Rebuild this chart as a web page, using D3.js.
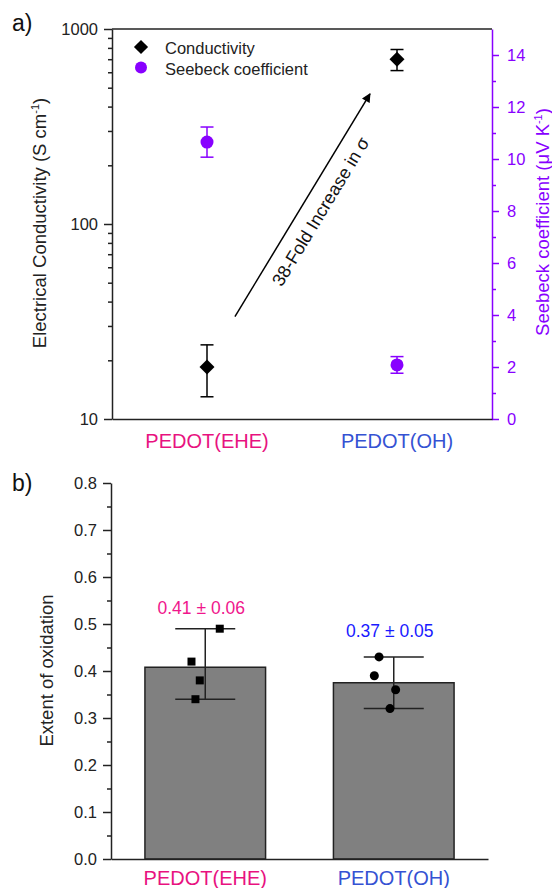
<!DOCTYPE html>
<html>
<head>
<meta charset="utf-8">
<script src="https://cdn.jsdelivr.net/npm/d3@7"></script>
<style>
  body { margin: 0; background: #fff; }
  svg { display: block; font-family: "Liberation Sans", Arial, sans-serif; }
</style>
</head>
<body>
<svg id="chart" width="552" height="888"></svg>
<script>
// == Data ====================================================================

const samples = ['PEDOT(EHE)', 'PEDOT(OH)']

// panel a
const conductivity = [18.5, 700]
const conductivityLow = [13, 612]
const conductivityHigh = [24, 785]
const seebeck = [10.65, 2.08]
const seebeckErr = [0.58, 0.32]
const condTicks = [10, 100, 1000]
const seebeckTicks = [0, 2, 4, 6, 8, 10, 12, 14]
const legendNames = ['Conductivity', 'Seebeck coefficient']
// arrow: [category position (0..2), conductivity]
const arrowFrom = [0.647, 33.5]
const arrowTo = [1.358, 465]
const arrowText = '38-Fold Increase in σ'

// panel b
const oxidation = [0.408, 0.375]
const oxidationMin = [0.34, 0.32]
const oxidationMax = [0.49, 0.43]
const oxidationText = ['0.41 ± 0.06', '0.37 ± 0.05']
const oxidationPoints = [[0.49, 0.42, 0.38, 0.34], [0.43, 0.39, 0.36, 0.32]]
const pointJitter = [[0.077, -0.073, -0.029, -0.052], [-0.078, -0.103, 0.010, -0.020]]
const oxTicks = [0, 0.1, 0.2, 0.3, 0.4, 0.5, 0.6, 0.7, 0.8]

// == Styles ==================================================================

const ink = '#222'
const purple = '#8800ff'
const catColors = ['#e8127f', '#3552d3']
const noteColors = ['#f0168c', '#1a1aff']
const tickFont = 16.5
const labelFont = 18.5

let svg = d3.select('#chart')

function styleAxis (g, color) {
  g.attr('font-family', null).attr('font-size', null)
  g.selectAll('.domain').attr('stroke', color).attr('stroke-width', 1.5)
  g.selectAll('.tick line').attr('stroke', color).attr('stroke-width', 1.5)
  g.selectAll('.tick text').attr('fill', color).attr('font-size', tickFont)
}

function minorTicks (g) {
  g.select('.domain').remove()
}

// == Panel a =================================================================

let a = { left: 112, right: 492, top: 29, bottom: 419 }
let xA = d3.scaleBand().domain(samples).range([a.left, a.right]).paddingInner(0.36).paddingOuter(0.18)
let posA = d3.scaleLinear().domain([0, 2]).range([a.left, a.right])
let yCond = d3.scaleLog().domain([10, 1000]).range([a.bottom, a.top])
let ySeeb = d3.scaleLinear().domain([0, 15]).range([a.bottom, a.top])

let condMinor = []
;[10, 100].forEach(function (d) {
  for (let k = 2; k < 10; k++) condMinor.push(d * k)
})

svg.append('g').attr('transform', `translate(${a.left},0)`)
  .call(d3.axisLeft(yCond).tickValues(condMinor).tickSize(4).tickFormat(''))
  .call(minorTicks)
  .call(styleAxis, ink)
svg.append('g').attr('transform', `translate(${a.left},0)`)
  .call(d3.axisLeft(yCond).tickValues(condTicks).tickFormat(d3.format('d')).tickSize(8).tickSizeOuter(0).tickPadding(6))
  .call(styleAxis, ink)

svg.append('g').attr('transform', `translate(${a.right},0)`)
  .call(d3.axisRight(ySeeb).tickValues([1, 3, 5, 7, 9, 11, 13]).tickSize(4).tickFormat(''))
  .call(minorTicks)
  .call(styleAxis, purple)
svg.append('g').attr('transform', `translate(${a.right},0)`)
  .call(d3.axisRight(ySeeb).tickValues(seebeckTicks).tickSize(7).tickSizeOuter(0).tickPadding(8))
  .call(styleAxis, purple)

// top frame line
svg.append('line')
  .attr('x1', a.left).attr('x2', a.right)
  .attr('y1', a.top).attr('y2', a.top)
  .attr('stroke', ink).attr('stroke-width', 1.5)

let bottomA = svg.append('g').attr('transform', `translate(0,${a.bottom})`)
  .call(d3.axisBottom(xA).tickSize(0).tickSizeOuter(0).tickPadding(14.5))
  .call(styleAxis, ink)
bottomA.selectAll('.tick text').attr('font-size', 20).attr('fill', function (d, i) { return catColors[i] })

// conductivity error bars + diamonds
let condG = svg.append('g')
samples.forEach(function (s, i) {
  let cx = xA(s) + xA.bandwidth() / 2
  condG.append('line')
    .attr('x1', cx).attr('x2', cx)
    .attr('y1', yCond(conductivityLow[i])).attr('y2', yCond(conductivityHigh[i]))
    .attr('stroke', '#000').attr('stroke-width', 1.5)
  ;[conductivityLow[i], conductivityHigh[i]].forEach(function (v) {
    condG.append('line')
      .attr('x1', cx - 6.5).attr('x2', cx + 6.5)
      .attr('y1', yCond(v)).attr('y2', yCond(v))
      .attr('stroke', '#000').attr('stroke-width', 1.5)
  })
  condG.append('path')
    .attr('d', d3.symbol(d3.symbolSquare, 112)())
    .attr('transform', `translate(${cx},${yCond(conductivity[i])}) rotate(45)`)
    .attr('fill', '#000')
})

// seebeck error bars + circles
let seebG = svg.append('g')
samples.forEach(function (s, i) {
  let cx = xA(s) + xA.bandwidth() / 2
  let lo = seebeck[i] - seebeckErr[i]
  let hi = seebeck[i] + seebeckErr[i]
  seebG.append('line')
    .attr('x1', cx).attr('x2', cx)
    .attr('y1', ySeeb(lo)).attr('y2', ySeeb(hi))
    .attr('stroke', purple).attr('stroke-width', 1.5)
  ;[lo, hi].forEach(function (v) {
    seebG.append('line')
      .attr('x1', cx - 6.5).attr('x2', cx + 6.5)
      .attr('y1', ySeeb(v)).attr('y2', ySeeb(v))
      .attr('stroke', purple).attr('stroke-width', 1.5)
  })
  seebG.append('circle')
    .attr('cx', cx).attr('cy', ySeeb(seebeck[i])).attr('r', 6.5)
    .attr('fill', purple)
})

// arrow
svg.append('defs').append('marker')
  .attr('id', 'head')
  .attr('viewBox', '0 0 10 10')
  .attr('refX', 9).attr('refY', 5)
  .attr('markerWidth', 12).attr('markerHeight', 9)
  .attr('markerUnits', 'userSpaceOnUse')
  .attr('orient', 'auto')
  .append('path').attr('d', 'M0,0 L10,5 L0,10 z').attr('fill', '#000')

let ax1 = posA(arrowFrom[0]), ay1 = yCond(arrowFrom[1])
let ax2 = posA(arrowTo[0]), ay2 = yCond(arrowTo[1])
svg.append('line')
  .attr('x1', ax1).attr('y1', ay1).attr('x2', ax2).attr('y2', ay2)
  .attr('stroke', '#000').attr('stroke-width', 1.5)
  .attr('marker-end', 'url(#head)')

let angle = Math.atan2(ay2 - ay1, ax2 - ax1) * 180 / Math.PI
svg.append('text')
  .attr('transform', `translate(${(ax1 + ax2) / 2},${(ay1 + ay2) / 2}) rotate(${angle})`)
  .attr('x', 4).attr('y', 25)
  .attr('text-anchor', 'middle')
  .attr('font-size', 18)
  .attr('fill', '#111')
  .text(arrowText)

// legend
let leg = svg.append('g').attr('transform', 'translate(141,47)')
leg.append('path')
  .attr('d', d3.symbol(d3.symbolSquare, 100)())
  .attr('transform', 'rotate(45)')
  .attr('fill', '#000')
leg.append('circle').attr('cx', 0).attr('cy', 20.5).attr('r', 6).attr('fill', purple)
leg.selectAll('text.name')
  .data(legendNames)
  .join('text')
  .attr('class', 'name')
  .attr('x', 24)
  .attr('y', function (d, i) { return 6.5 + i * 21 })
  .attr('font-size', 16.5)
  .attr('fill', ink)
  .text(function (d) { return d })

// axis titles
let condTitle = svg.append('text')
  .attr('transform', `translate(46,${(a.top + a.bottom) / 2 - 1}) rotate(-90)`)
  .attr('text-anchor', 'middle')
  .attr('font-size', labelFont)
  .attr('fill', ink)
condTitle.append('tspan').text('Electrical Conductivity (S cm')
condTitle.append('tspan').attr('font-size', 11).attr('dy', -7).text('-1')
condTitle.append('tspan').attr('dy', 7).text(')')

let seebTitle = svg.append('text')
  .attr('transform', `translate(549,${(a.top + a.bottom) / 2 - 2}) rotate(-90)`)
  .attr('text-anchor', 'middle')
  .attr('font-size', labelFont)
  .attr('fill', purple)
seebTitle.append('tspan').text('Seebeck coefficient (μV K')
seebTitle.append('tspan').attr('font-size', 11).attr('dy', -7).text('-1')
seebTitle.append('tspan').attr('dy', 7).text(')')

svg.append('text').attr('x', 12).attr('y', 31).attr('font-size', 23).attr('fill', '#111').text('a)')

// == Panel b =================================================================

let b = { left: 111, right: 488, top: 483, bottom: 859 }
let xB = d3.scaleBand().domain(samples).range([b.left, b.right]).paddingInner(0.36).paddingOuter(0.18)
let yOx = d3.scaleLinear().domain([0, 0.8]).range([b.bottom, b.top])

svg.append('g').attr('transform', `translate(${b.left},0)`)
  .call(d3.axisLeft(yOx).tickValues(d3.range(0.05, 0.8, 0.1)).tickSize(4).tickFormat(''))
  .call(minorTicks)
  .call(styleAxis, ink)
svg.append('g').attr('transform', `translate(${b.left},0)`)
  .call(d3.axisLeft(yOx).tickValues(oxTicks).tickFormat(d3.format('.1f')).tickSize(8).tickSizeOuter(0).tickPadding(6))
  .call(styleAxis, ink)

// bars
svg.append('g').selectAll('rect')
  .data(samples)
  .join('rect')
  .attr('x', function (d) { return xB(d) })
  .attr('width', xB.bandwidth())
  .attr('y', function (d, i) { return yOx(oxidation[i]) })
  .attr('height', function (d, i) { return b.bottom - yOx(oxidation[i]) })
  .attr('fill', '#808080')
  .attr('stroke', ink)
  .attr('stroke-width', 1.5)

let bottomB = svg.append('g').attr('transform', `translate(0,${b.bottom})`)
  .call(d3.axisBottom(xB).tickSize(0).tickSizeOuter(0).tickPadding(11.8))
  .call(styleAxis, ink)
bottomB.selectAll('.tick text').attr('font-size', 20).attr('fill', function (d, i) { return catColors[i] })

// range bars + individual points
const labelLift = [15, 20]
let ptsG = svg.append('g')
samples.forEach(function (s, i) {
  let cx = xB(s) + xB.bandwidth() / 2
  ptsG.append('line')
    .attr('x1', cx).attr('x2', cx)
    .attr('y1', yOx(oxidationMin[i])).attr('y2', yOx(oxidationMax[i]))
    .attr('stroke', ink).attr('stroke-width', 1.5)
  ;[oxidationMin[i], oxidationMax[i]].forEach(function (v) {
    ptsG.append('line')
      .attr('x1', cx - 30).attr('x2', cx + 30)
      .attr('y1', yOx(v)).attr('y2', yOx(v))
      .attr('stroke', ink).attr('stroke-width', 1.5)
  })
  oxidationPoints[i].forEach(function (v, j) {
    let px = cx + pointJitter[i][j] * xB.step()
    ptsG.append('path')
      .attr('d', d3.symbol(i === 0 ? d3.symbolSquare : d3.symbolCircle, 64)())
      .attr('transform', `translate(${px},${yOx(v)})`)
      .attr('fill', '#000')
  })
  ptsG.append('text')
    .attr('x', cx - 4)
    .attr('y', yOx(oxidationMax[i]) - labelLift[i])
    .attr('text-anchor', 'middle')
    .attr('font-size', 17.5)
    .attr('fill', noteColors[i])
    .text(oxidationText[i])
})

svg.append('text')
  .attr('transform', `translate(53,${(b.top + b.bottom) / 2 - 0.5}) rotate(-90)`)
  .attr('text-anchor', 'middle')
  .attr('font-size', labelFont)
  .attr('fill', ink)
  .text('Extent of oxidation')

svg.append('text').attr('x', 12).attr('y', 491).attr('font-size', 23).attr('fill', '#111').text('b)')
</script>
</body>
</html>
